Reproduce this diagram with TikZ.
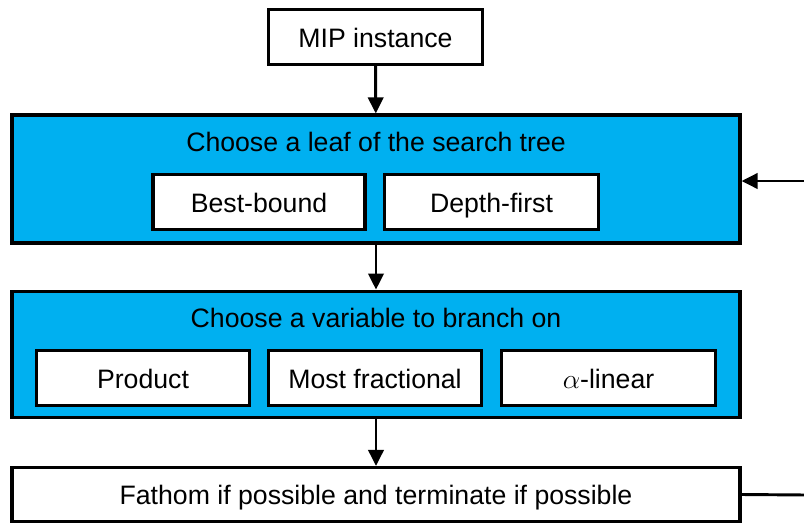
\documentclass[tikz,border=0pt]{standalone}
\usepackage{fontspec}
\setmainfont{Liberation Sans}
\usepackage{xcolor}
\usetikzlibrary{arrows.meta,positioning}
\definecolor{panel}{HTML}{00B0F0}
\begin{document}
\begin{tikzpicture}[x=0.75pt, y=-0.75pt, font=\fontsize{20pt}{24pt}\selectfont,
    box/.style={draw=black, fill=white, line width=2.4pt, inner sep=0pt, align=center,
      minimum height=41pt, text height=17pt, text depth=2pt},
    stage/.style={draw=black, fill=panel, line width=2.4pt, inner sep=0pt, minimum width=546pt},
    title/.style={inner sep=0pt, anchor=base},
    flow/.style={-{Triangle[length=12pt, width=11.5pt]}, line width=2.2pt}]
  \useasboundingbox (0,0) rectangle (804,522);
  \node[box, minimum width=161pt] (mip) at (375.5,37) {MIP instance};
  \node[stage, minimum height=96pt] (leaf) at (376,179) {};
  \node[title] (leaft) at (376,151) {Choose a leaf of the search tree};
  \node[box, minimum width=159pt] (best) at (259,202) {Best-bound};
  \node[box, minimum width=160pt] (depth) at (491.5,202) {Depth-first};
  \node[stage, minimum height=95pt] (var) at (376,354.5) {};
  \node[title] (vart) at (376,327) {Choose a variable to branch on};
  \node[box, minimum width=160pt] (prod) at (143,378) {Product};
  \node[box, minimum width=160pt] (frac) at (375,378) {Most fractional};
  \node[box, minimum width=160pt] (alin) at (608.5,378) {$\alpha$-linear};
  \node[box, minimum width=546pt, minimum height=40.5pt] (fathom) at (376,494.5) {Fathom if possible and terminate if possible};
  \coordinate (loopin) at (806,181);
  \coordinate (loopout) at (806,495);
  \draw[flow] (mip) -- (leaf);
  \draw[flow] (leaf) -- (var);
  \draw[flow] (var) -- (fathom);
  \draw[flow] (loopin) -- (loopin -| leaf.east);
  \draw[line width=2.2pt] (fathom.east) -- (loopout);
\end{tikzpicture}
\end{document}
